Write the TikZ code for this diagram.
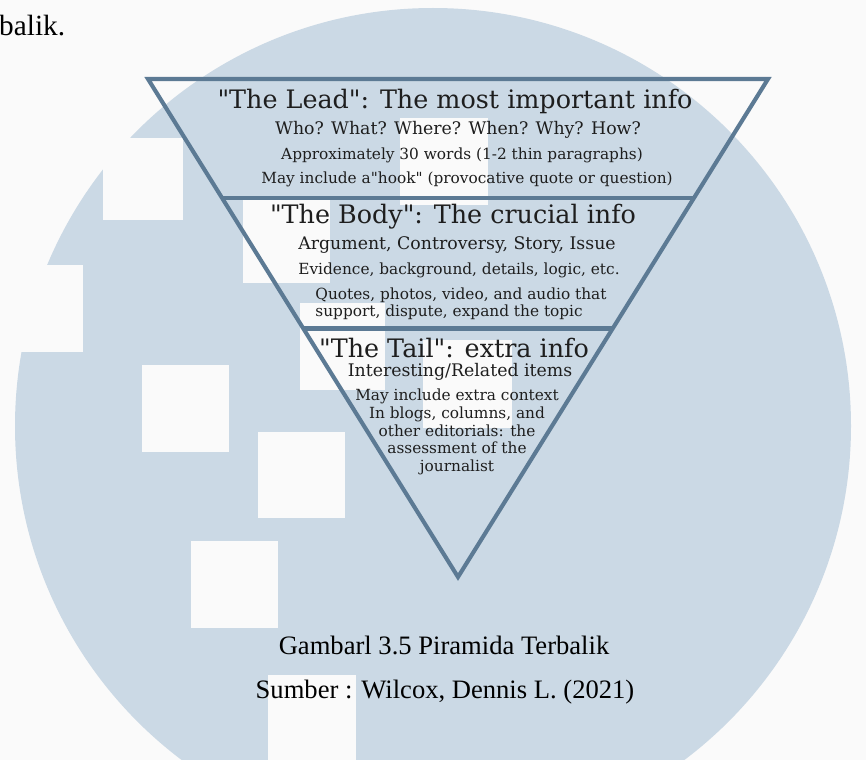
\documentclass[tikz,border=0pt]{standalone}
\usepackage{fontspec}
\setmainfont{Liberation Serif}
\newfontfamily\pyrfont{DejaVu Serif}
\usetikzlibrary{calc}
\definecolor{pyrpaper}{RGB}{250,250,250}
\definecolor{pyrsky}  {RGB}{203,217,229}
\definecolor{pyrline} {RGB}{92,122,148}
\definecolor{pyrtext} {RGB}{30,30,30}
\tikzset{
  ttl/.style={font=\pyrfont\fontsize{21.7}{23}\selectfont,text=pyrtext,inner sep=0pt},
  sub/.style={font=\pyrfont\fontsize{14.8}{16}\selectfont,text=pyrtext,inner sep=0pt},
  note/.style={font=\pyrfont\fontsize{13.1}{14.5}\selectfont,text=pyrtext,inner sep=0pt},
  tailtxt/.style={font=\pyrfont\fontsize{13.1}{15}\selectfont,text=pyrtext,inner sep=0pt,align=center},
  captxt/.style={font=\fontsize{22.7}{24}\selectfont,inner sep=0pt},
  patch/.style={fill=pyrpaper,draw=none},
  pyredge/.style={draw=pyrline,line width=3.5pt,line join=miter},
}
\begin{document}
\begin{tikzpicture}[x=0.03cm,y=-0.03cm]
  \useasboundingbox (0,0) rectangle (866,760);
  \begin{scope}
    \clip (0,0) rectangle (866,760);
    \fill[pyrpaper] (0,0) rectangle (866,760);
    \fill[pyrsky] (433,426) circle[radius=418];
    % white patches
    \foreach \xa/\ya/\xb/\yb in {
        103/138/183/220, 0/265/83/352, 142/365/229/452,
        258/432/345/518, 191/541/278/628, 268/675/356/762,
        400/118/488/205, 243/200/330/283, 300/303/385/390,
        423/340/512/428}{
      \fill[patch] (\xa,\ya) rectangle (\xb,\yb);
    }
  \end{scope}
  % pyramid
  \coordinate (tl) at (148,79);
  \coordinate (tr) at (768,79);
  \coordinate (ap) at (458,577);
  \draw[pyredge] (tl) -- (tr) -- (ap) -- cycle;
  \coordinate (d1l) at ($(tl)!0.2385!(ap)$);
  \coordinate (d1r) at ($(tr)!0.2385!(ap)$);
  \coordinate (d2l) at ($(tl)!0.501!(ap)$);
  \coordinate (d2r) at ($(tr)!0.501!(ap)$);
  \draw[pyredge] (d1l) -- (d1r);
  \draw[pyredge] (d2l) -- (d2r);
  % lead
  \node[ttl]  (lead)  at (455,101) {"The Lead": The most important info};
  \node[sub]  (leadA) at (458,130) {Who? What? Where? When? Why? How?};
  \node[note] (leadB) at (462,155) {Approximately 30 words (1-2 thin paragraphs)};
  \node[note] (leadC) at (467,179) {May include a"hook" (provocative quote or question)};
  % body
  \node[ttl]  (body)  at (453,217) {"The Body": The crucial info};
  \node[sub]  (bodyA) at (457,245) {Argument, Controversy, Story, Issue};
  \node[note] (bodyB) at (459,270) {Evidence, background, details, logic, etc.};
  \node[note,align=left] (bodyC) at (461,304)
       {Quotes, photos, video, and audio that\\support, dispute, expand the topic};
  % tail
  \node[ttl]  (tail)  at (454,348) {"The Tail": extra info};
  \node[sub]  (tailA) at (460,372) {Interesting/Related items};
  \node[tailtxt] (tailB) at (457,432) {May include extra context\\In blogs, columns, and\\other editorials: the\\assessment of the\\journalist};
  % caption
  \node[captxt] (fig) at (444,645) {Gambarl 3.5 Piramida Terbalik};
  \node[captxt] (src) at (445,692) {Sumber : Wilcox, Dennis L. (2021)};
  \node[captxt,font=\fontsize{25}{26}\selectfont,anchor=west] (prev) at (-1,26) {balik.};
\end{tikzpicture}
\end{document}
